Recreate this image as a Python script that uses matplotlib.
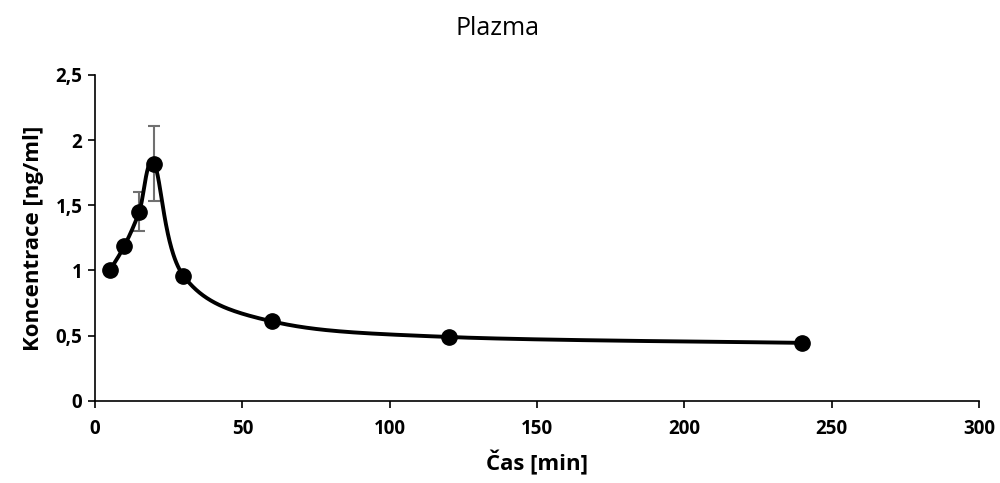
import numpy as np
import matplotlib.pyplot as plt

# sampling times [min], concentrations [ng/ml] and standard deviations
cas = [5, 10, 15, 20, 30, 60, 120, 240]
konc = [1.0, 1.19, 1.45, 1.82, 0.96, 0.61, 0.49, 0.445]
sd = [0.0, 0.0, 0.15, 0.29, 0.0, 0.0, 0.0, 0.0]
xticks = [0, 50, 100, 150, 200, 250, 300]
yticks = [0, 0.5, 1, 1.5, 2, 2.5]
ytick_labels = ['0', '0,5', '1', '1,5', '2', '2,5']


def bezier_smooth(x, y, n=60):
    # piecewise cubic Bezier through the points, tangent from neighbours
    x = np.asarray(x, float)
    y = np.asarray(y, float)
    px, py = [], []
    for i in range(len(x) - 1):
        i0 = max(i - 1, 0)
        i3 = min(i + 2, len(x) - 1)
        c1 = (x[i] + (x[i + 1] - x[i0]) / 6, y[i] + (y[i + 1] - y[i0]) / 6)
        c2 = (x[i + 1] - (x[i3] - x[i]) / 6, y[i + 1] - (y[i3] - y[i]) / 6)
        t = np.linspace(0, 1, n)
        b0, b1, b2, b3 = (1 - t) ** 3, 3 * (1 - t) ** 2 * t, 3 * (1 - t) * t ** 2, t ** 3
        px.append(b0 * x[i] + b1 * c1[0] + b2 * c2[0] + b3 * x[i + 1])
        py.append(b0 * y[i] + b1 * c1[1] + b2 * c2[1] + b3 * y[i + 1])
    return np.concatenate(px), np.concatenate(py)


plt.rcParams['font.family'] = ['Open Sans', 'DejaVu Sans']

fig = plt.figure(figsize=(10, 4.83), dpi=100)
ax = fig.add_axes([0.095, 0.170, 0.884, 0.675])

sx, sy = bezier_smooth(cas, konc)
ax.plot(sx, sy, color='black', lw=2.8, zorder=2)
ax.errorbar(cas, konc, yerr=sd, fmt='none', ecolor='#707070', elinewidth=1.5,
            capsize=4.5, capthick=1.5, zorder=1)
ax.plot(cas, konc, 'o', color='black', ms=11, zorder=3)

ax.set_xlim(0, 300)
ax.set_ylim(0, 2.5)
ax.set_xticks(xticks, labels=[str(v) for v in xticks], fontsize=13.5, fontweight='bold')
ax.set_yticks(yticks, labels=ytick_labels, fontsize=13.5, fontweight='bold')

for s in ['top', 'right']:
    ax.spines[s].set_visible(False)
for s in ['left', 'bottom']:
    ax.spines[s].set_color('black')
    ax.spines[s].set_linewidth(1.2)
ax.tick_params(axis='y', direction='out', length=5, width=1.2, pad=4)
ax.tick_params(axis='x', direction='out', length=5, width=1.2, pad=8)

ax.set_xlabel('Čas [min]', fontsize=16, fontweight='bold', labelpad=8)
ax.set_ylabel('Koncentrace [ng/ml]', fontsize=16, fontweight='bold', labelpad=8)
fig.text(0.498, 0.94, 'Plazma', fontsize=18, ha='center', va='center')

fig.savefig('out.png', dpi=100)
